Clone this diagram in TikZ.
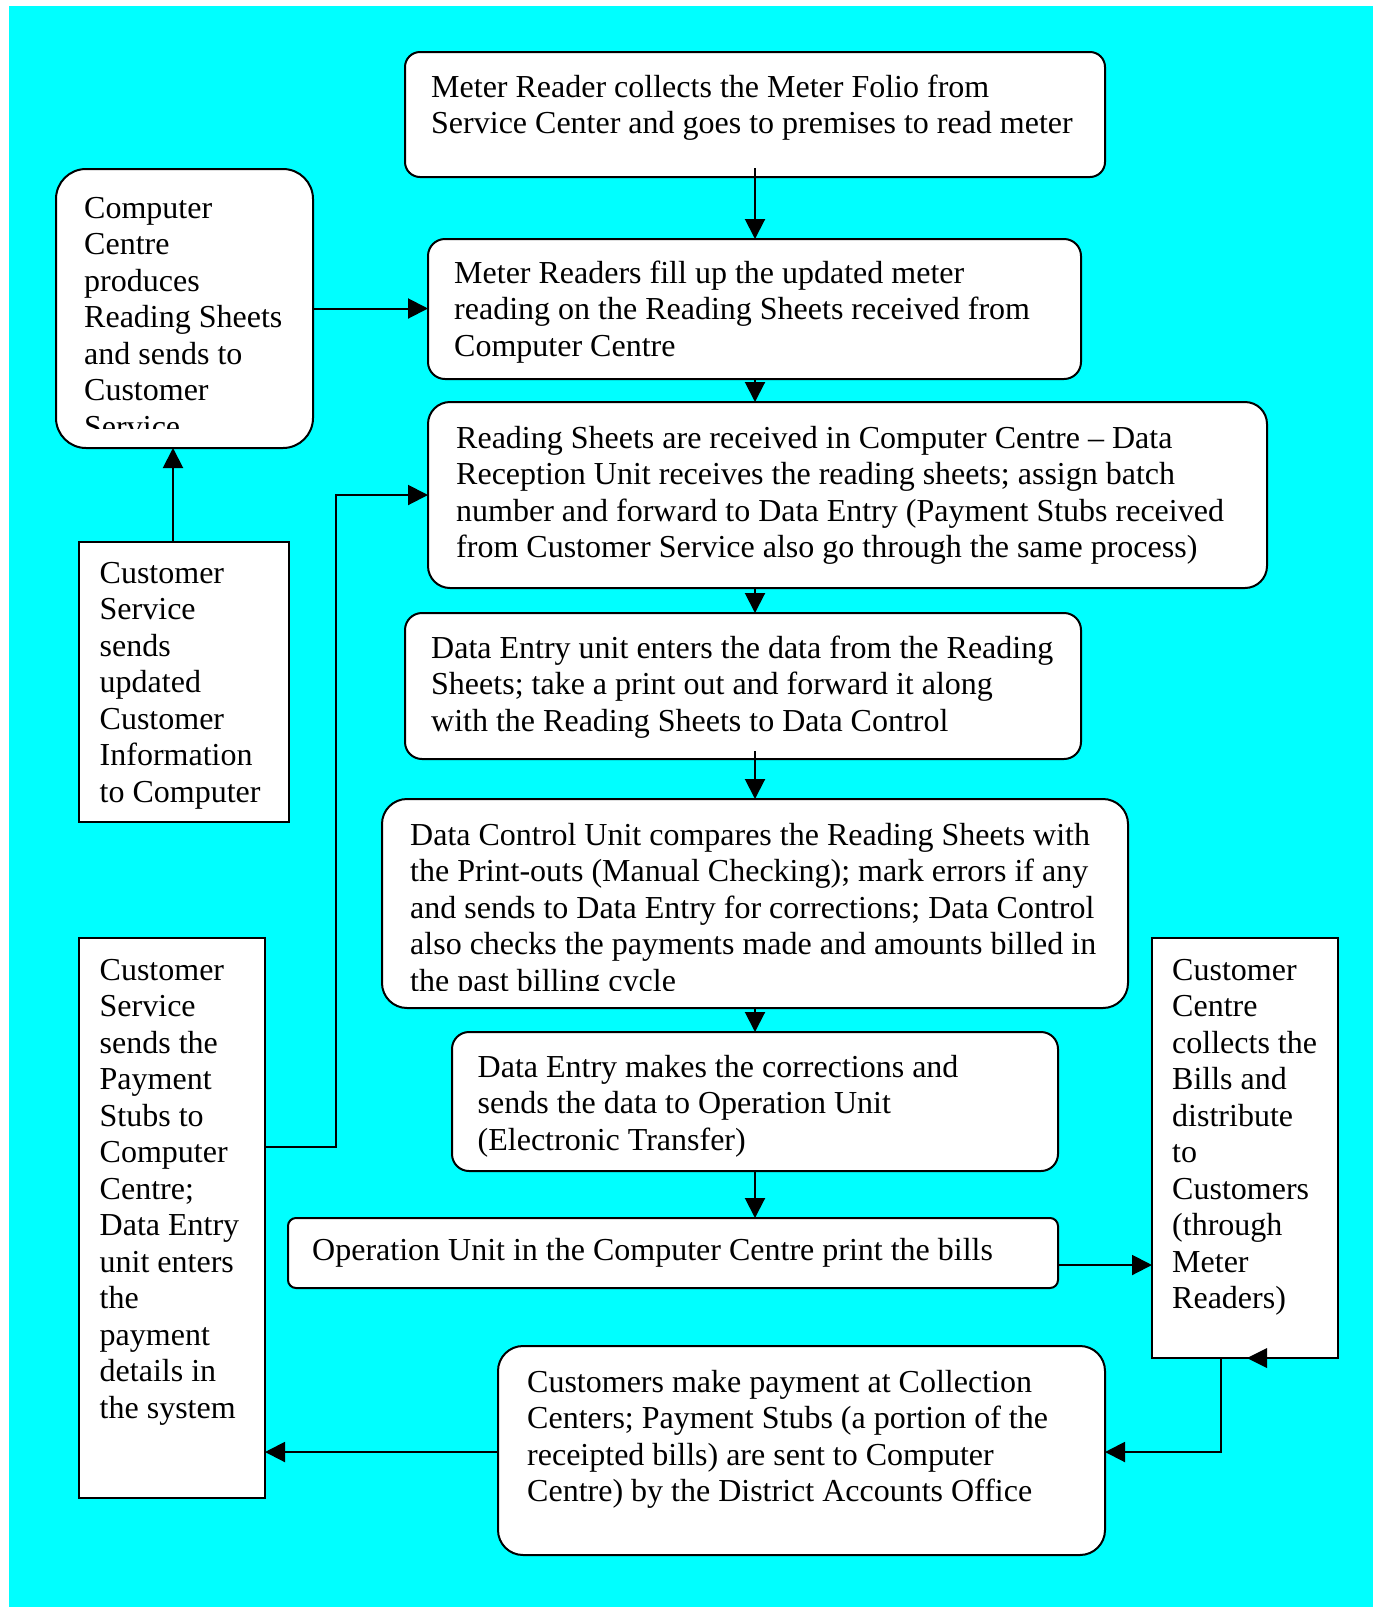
\documentclass[tikz,border=0pt]{standalone}
\usepackage{fontspec}
\setmainfont{Liberation Serif}
\usetikzlibrary{arrows.meta}
\definecolor{bgcyan}{HTML}{00FFFF}
\begin{document}
\begin{tikzpicture}[x=1pt,y=-1pt,
  box/.style={draw=black, fill=white, line width=2pt, inner sep=0pt, outer sep=0pt},
  txt/.style={inner sep=0pt, align=left, anchor=base west, font=\fontsize{32pt}{36.5pt}\selectfont},
  conn/.style={line width=2pt, -{Triangle[length=20pt,width=20pt]}}]
\useasboundingbox (0,0) rectangle (1373,1607);
\fill[white] (0,0) rectangle (1373,1607);
\fill[bgcyan] (9,6) rectangle (1373,1607);

% boxes
\node[box, rounded corners=15pt, minimum width=700pt, minimum height=125pt] (b1) at (755,114.5) {};
\node[box, rounded corners=30pt, minimum width=257pt, minimum height=279pt] (b2) at (184.5,308.5) {};
\node[box, rounded corners=17pt, minimum width=653pt, minimum height=140pt] (b3) at (754.5,309) {};
\node[box, rounded corners=22pt, minimum width=839pt, minimum height=186pt] (b4) at (847.5,495) {};
\node[box, minimum width=210pt, minimum height=280pt] (b5) at (184,682) {};
\node[box, rounded corners=17pt, minimum width=676pt, minimum height=146pt] (b6) at (743,686) {};
\node[box, rounded corners=25pt, minimum width=746pt, minimum height=209pt] (b7) at (755,903.5) {};
\node[box, minimum width=186pt, minimum height=560pt] (b8) at (172,1218) {};
\node[box, minimum width=186pt, minimum height=420pt] (b9) at (1245,1148) {};
\node[box, rounded corners=17pt, minimum width=606pt, minimum height=139pt] (b10) at (755,1101.5) {};
\node[box, rounded corners=8pt, minimum width=770pt, minimum height=70pt] (b11) at (673,1253) {};
\node[box, rounded corners=25pt, minimum width=607pt, minimum height=209pt] (b12) at (801.5,1450.5) {};

% texts (anchor = baseline of the last line)
\node[txt] (t1) at (431,133.5) {Meter Reader collects the Meter Folio from\\Service Center and goes to premises to read meter};
\begin{scope}
\clip (56,169) rectangle (313,428);
\node[txt] (t2) at (84,437) {Computer\\Centre\\produces\\Reading Sheets\\and sends to\\Customer\\Service};
\end{scope}
\node[txt] (t3) at (454,356) {Meter Readers fill up the updated meter\\reading on the Reading Sheets received from\\Computer Centre};
\node[txt] (t4) at (456,557.5) {Reading Sheets are received in Computer Centre – Data\\Reception Unit receives the reading sheets; assign batch\\number and forward to Data Entry (Payment Stubs received\\from Customer Service also go through the same process)};
\node[txt] (t5) at (99.5,802) {Customer\\Service\\sends\\updated\\Customer\\Information\\to Computer};
\node[txt] (t6) at (431,731) {Data Entry unit enters the data from the Reading\\Sheets; take a print out and forward it along\\with the Reading Sheets to Data Control};
\begin{scope}
\clip (382,799) rectangle (1128,990);
\node[txt] (t7) at (410,991) {Data Control Unit compares the Reading Sheets with\\the Print-outs (Manual Checking); mark errors if any\\and sends to Data Entry for corrections; Data Control\\also checks the payments made and amounts billed in\\the past billing cycle};
\end{scope}
\node[txt] (t8) at (99.5,1418) {Customer\\Service\\sends the\\Payment\\Stubs to\\Computer\\Centre;\\Data Entry\\unit enters\\the\\payment\\details in\\the system};
\node[txt] (t9) at (1172,1308.5) {Customer\\Centre\\collects the\\Bills and\\distribute\\to\\Customers\\(through\\Meter\\Readers)};
\node[txt] (t10) at (477.5,1150) {Data Entry makes the corrections and\\sends the data to Operation Unit\\(Electronic Transfer)};
\node[txt] (t11) at (312,1260) {Operation Unit in the Computer Centre print the bills};
\node[txt] (t12) at (527,1501.5) {Customers make payment at Collection\\Centers; Payment Stubs (a portion of the\\receipted bills) are sent to Computer\\Centre) by the District Accounts Office};

% connector helper coordinates
\coordinate (cx) at (755,0);
\coordinate (lx) at (173,0);
\coordinate (j1) at (336,1147);
\coordinate (j2) at (1100,1265);
\coordinate (j3) at (1221,1452);

% connectors
\draw[conn] ([yshift=9pt]cx |- b1.south) -- (cx |- b3.north);
\draw[conn] (cx |- b3.south) -- (cx |- b4.north);
\draw[conn] (cx |- b4.south) -- (cx |- b6.north);
\draw[conn] ([yshift=8pt]cx |- b6.south) -- (cx |- b7.north);
\draw[conn] (cx |- b7.south) -- (cx |- b10.north);
\draw[conn] (cx |- b10.south) -- (cx |- b11.north);
\draw[conn] (b2.east) -- (b2.east -| b3.west);
\draw[conn] (lx |- b5.north) -- (lx |- b2.south);
\draw[conn] (b8.east |- j1) -- (j1) -- (j1 |- b4.west) -- (b4.west);
\draw[conn] (b11.east |- j2) -- (b9.west |- j2);
\draw[conn] (j3 |- b9.south) -- (j3) -- (b12.east |- j3);
\draw[conn] (b12.west |- j3) -- (b8.east |- j3);
% stray arrowhead on the bottom edge of the Customer Centre box
\fill (1247,1358) -- (1267,1348) -- (1267,1368) -- cycle;
\end{tikzpicture}
\end{document}
